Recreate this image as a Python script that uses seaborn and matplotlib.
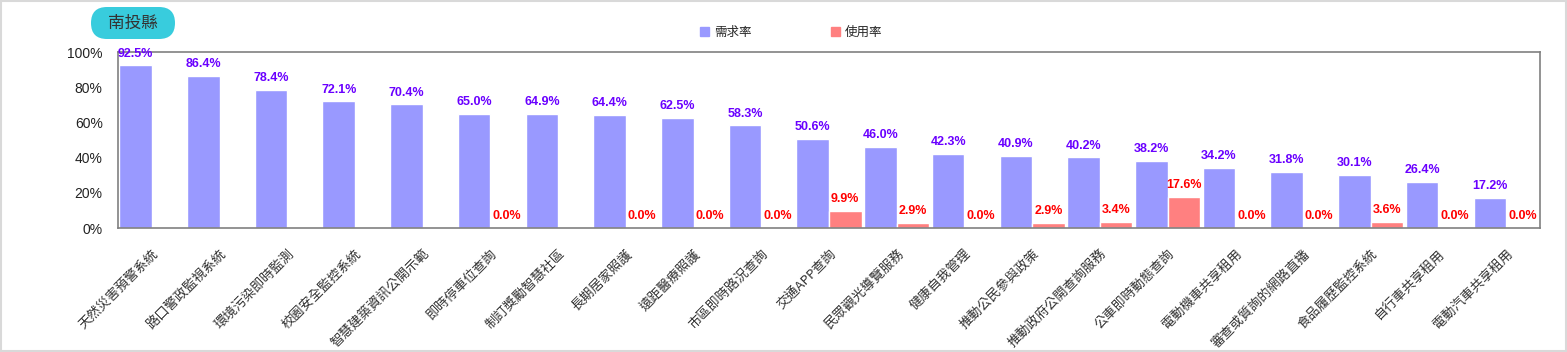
import numpy as np
import pandas as pd
import matplotlib
matplotlib.use("Agg")
import matplotlib.pyplot as plt
from matplotlib.patches import FancyBboxPatch, Rectangle
import seaborn as sns

categories = ["天然災害預警系統", "路口警政監視系統", "環境污染即時監測", "校園安全監控系統",
              "智慧建築資訊公開示範", "即時停車位查詢", "制訂獎勵智慧社區", "長期居家照護",
              "遠距醫療照護", "市區即時路況查詢", "交通APP查詢", "民眾觀光導覽服務",
              "健康自我管理", "推動公民參與政策", "推動政府公開查詢服務", "公車即時動態查詢",
              "電動機車共享租用", "審查或質詢的網路直播", "食品履歷監控系統", "自行車共享租用",
              "電動汽車共享租用"]
demand = [92.5, 86.4, 78.4, 72.1, 70.4, 65.0, 64.9, 64.4, 62.5, 58.3, 50.6, 46.0,
          42.3, 40.9, 40.2, 38.2, 34.2, 31.8, 30.1, 26.4, 17.2]
usage = [np.nan, np.nan, np.nan, np.nan, np.nan, 0.0, np.nan, 0.0, 0.0, 0.0, 9.9, 2.9,
         0.0, 2.9, 3.4, 17.6, 0.0, 0.0, 3.6, 0.0, 0.0]
series_names = ["需求率", "使用率"]
title_text = "南投縣"
yticks = [0, 20, 40, 60, 80, 100]

sns.set_theme(style="white")
plt.rcParams['font.family'] = ['Noto Sans CJK TC', 'DejaVu Sans']

df = pd.DataFrame({
    "cat": categories * 2,
    "series": [series_names[0]] * len(categories) + [series_names[1]] * len(categories),
    "value": demand + usage,
})

W, H = 1567, 352
fig = plt.figure(figsize=(W / 100, H / 100), dpi=100)

# overlay axes in pixel coordinates for decorations
deco = fig.add_axes([0, 0, 1, 1], zorder=-1)
deco.set_xlim(0, W)
deco.set_ylim(H, 0)
deco.axis("off")

ax = fig.add_axes([118 / W, 1 - 228 / H, (1540 - 118) / W, (228 - 52) / H])

colors = ["#9999FF", "#FF8080"]
sns.barplot(data=df, x="cat", y="value", hue="series", order=categories,
            hue_order=series_names, palette=colors, width=0.96, ax=ax,
            errorbar=None, legend=False, saturation=1)

label_colors = ["#6A00FF", "#FF0000"]
numfont = ['Liberation Sans Narrow', 'Liberation Sans', 'DejaVu Sans']
for cont, lc in zip(ax.containers, label_colors):
    for p in cont.patches:
        h = p.get_height()
        if np.isnan(h):
            continue
        ax.annotate(f"{h:.1f}%", (p.get_x() + p.get_width() / 2, h),
                    xytext=(0, 4), textcoords="offset points", ha="center", va="bottom",
                    color=lc, fontsize=9, fontweight="bold", family=numfont,
                    annotation_clip=False)

ax.set_ylim(0, 100)
ax.set_xlim(-0.5, len(categories) - 0.5)
ax.set_yticks(yticks)
ax.set_yticklabels([f"{v}%" for v in yticks], fontsize=10, color="#222222", family=numfont)
ax.set_xticks(range(len(categories)))
ax.set_xticklabels(categories, rotation=45, ha="right", rotation_mode="anchor",
                   fontsize=9.5, color="#333333")
ax.tick_params(axis="x", length=0, pad=14)
ax.tick_params(axis="y", length=0, pad=11)
ax.set_xlabel("")
ax.set_ylabel("")
for s in ax.spines.values():
    s.set_color("#808080")
    s.set_linewidth(1.2)

# legend
handles = [Rectangle((0, 0), 1, 1, color=c) for c in colors]
fig.legend(handles, series_names, loc="center", bbox_to_anchor=(0.505, 0.909), ncol=2,
           frameon=False, fontsize=9, handlelength=0.7, handleheight=0.7,
           columnspacing=6.4, handletextpad=0.4)

# title badge
badge = FancyBboxPatch((91, 7), 84, 32, boxstyle="round,pad=0,rounding_size=16",
                       facecolor="#38CCDD", edgecolor="none")
deco.add_patch(badge)
deco.text(133, 23.5, title_text, ha="center", va="center", fontsize=12, color="#333333")

# outer border
deco.add_patch(Rectangle((1, 1), W - 2, H - 2, fill=False, edgecolor="#D9D9D9",
                         linewidth=1.5))

fig.savefig("out.png", dpi=100)
